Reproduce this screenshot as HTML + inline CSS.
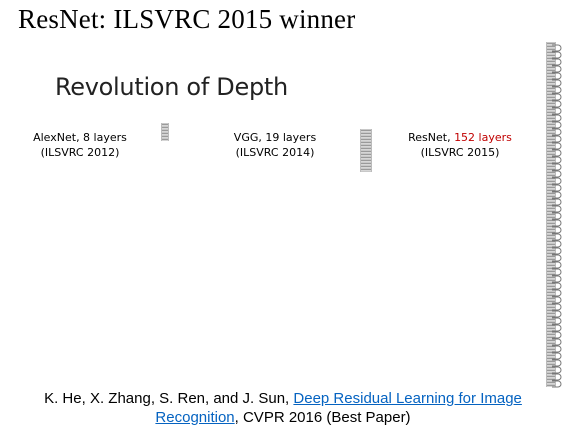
<!DOCTYPE html>
<html><head><meta charset="utf-8"><style>
body{margin:0;width:582px;height:427px;background:#fff;position:relative;overflow:hidden;font-family:"Liberation Sans",sans-serif}
.a{position:absolute;margin:0}
.c{text-align:center;line-height:15px;color:#000;font-family:"DejaVu Sans","Liberation Sans",sans-serif;font-size:11px}
.strip{position:absolute;background:repeating-linear-gradient(#c8c8c8 0 1px,#9a9a9a 1px 2px,#d6d6d6 2px 3px);border-left:1px solid #bbb;border-right:1px solid #bbb}
a{color:#0563c1;text-decoration:underline}
</style></head><body>
<div class="a" style="left:18px;top:4px;font-family:'Liberation Serif',serif;font-size:27px;letter-spacing:0.2px">ResNet: ILSVRC 2015 winner</div>
<div class="a" style="left:55px;top:73px;font-family:'DejaVu Sans',sans-serif;font-size:24px;letter-spacing:-0.3px;color:#222">Revolution of Depth</div>
<div class="a c" style="left:20px;top:130px;width:120px">AlexNet, 8 layers<br>(ILSVRC 2012)</div>
<div class="a c" style="left:215px;top:130px;width:120px">VGG, 19 layers<br>(ILSVRC 2014)</div>
<div class="a c" style="left:395px;top:130px;width:130px">ResNet, <span style="color:#c00000">152 layers</span><br>(ILSVRC 2015)</div>
<div class="strip" style="left:161px;top:123px;width:6px;height:18px"></div>
<div class="strip" style="left:360px;top:129px;width:10px;height:43px"></div>
<div class="strip" style="left:546px;top:42px;width:8px;height:345px"></div>
<svg class="a" style="left:550px;top:42px" width="14" height="346">
<script>
(function(){var s=document.currentScript.parentNode,d='';for(var y=3;y<342;y+=7){d+='M2 '+y+' h6 a3 3 0 0 1 0 6 h-6 ';}
var p=document.createElementNS('http://www.w3.org/2000/svg','path');p.setAttribute('d',d);p.setAttribute('fill','none');p.setAttribute('stroke','#777');p.setAttribute('stroke-width','1');


s.appendChild(p);})();
</script></svg>
<div class="a" style="left:0;width:566px;top:389px;text-align:center;font-size:15px;line-height:19px">K. He, X. Zhang, S. Ren, and J. Sun, <a>Deep Residual Learning for Image</a><br><a>Recognition</a>, CVPR 2016 (Best Paper)</div>
</body></html>
